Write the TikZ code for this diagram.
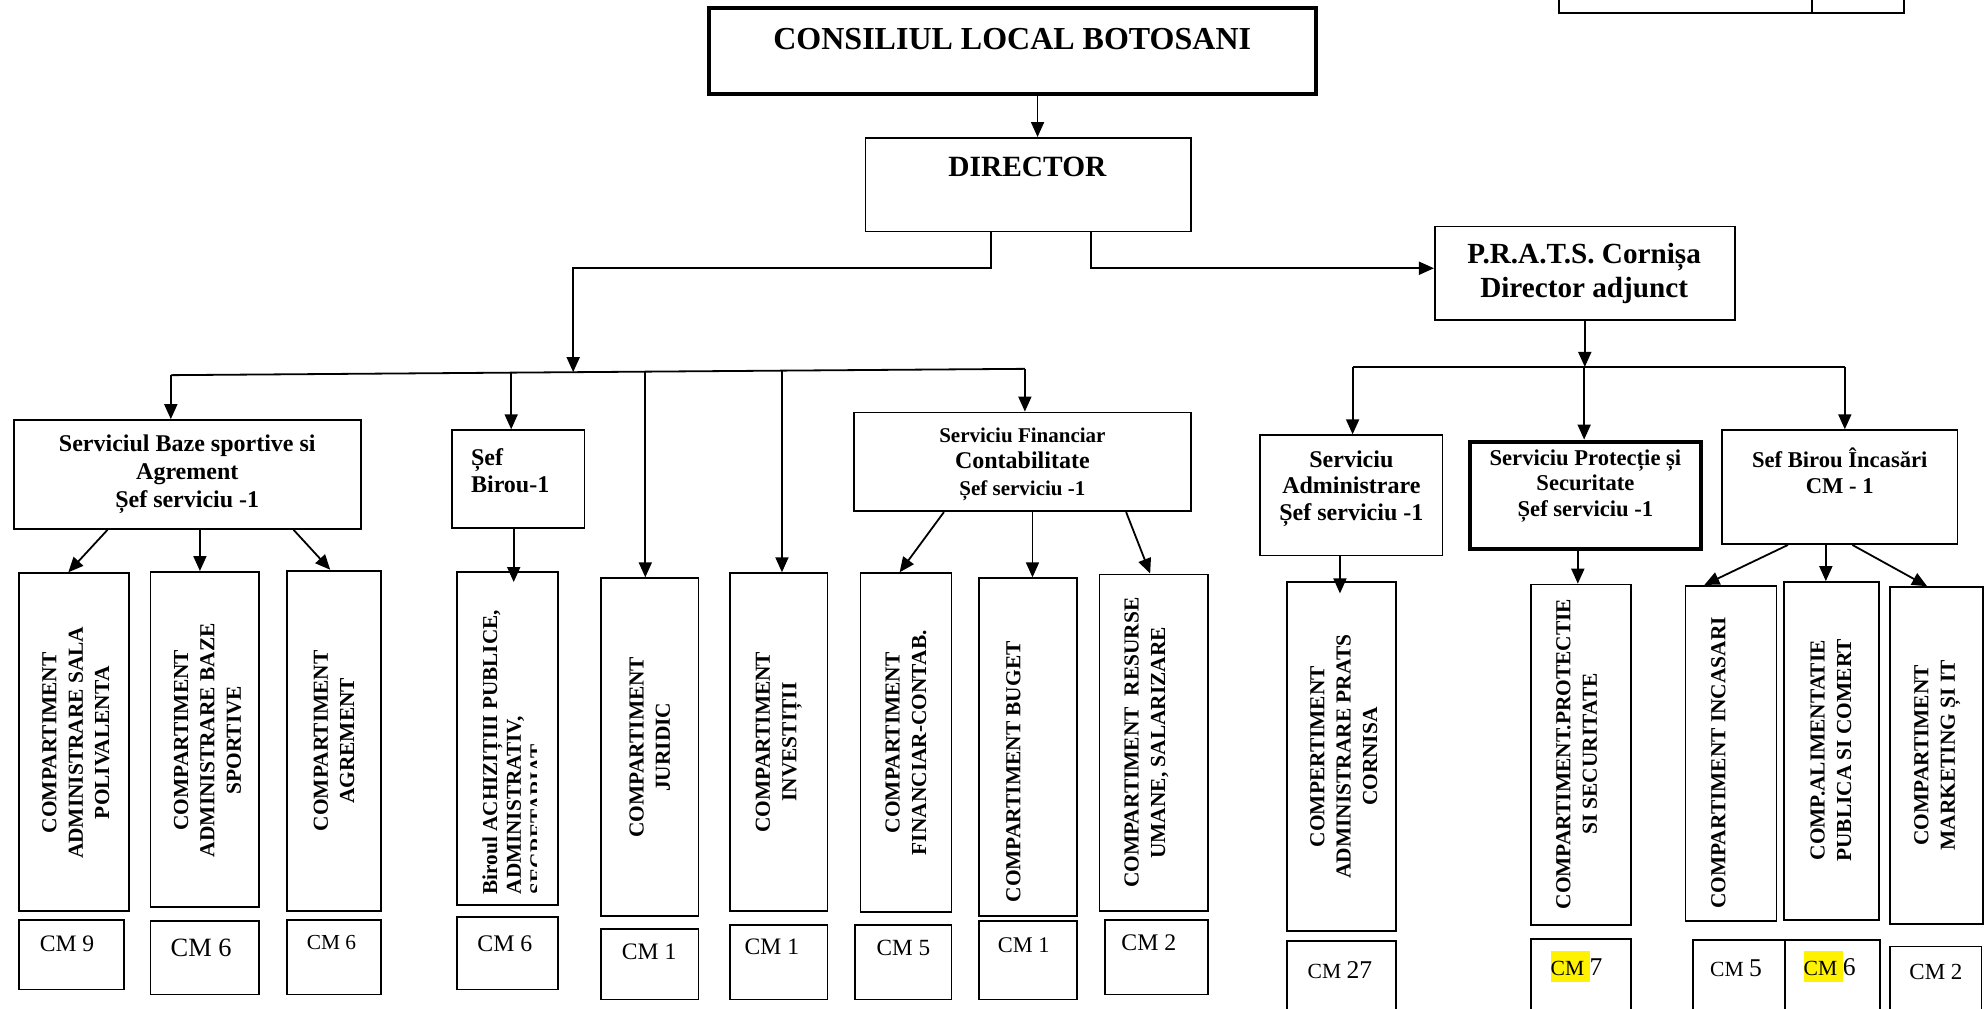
\documentclass[tikz,border=0pt]{standalone}
\usepackage{fontspec}
\setmainfont{Liberation Serif}
\usetikzlibrary{arrows.meta,fit}
\newcommand\fsz[2]{\fontsize{#1}{#2}\selectfont}
\newcommand\mkbox[6][box]{\node[#1, fit={(#3,#4) (#5,#6)}] (#2) {};}
\newcommand\hlcm[1]{{\setlength\fboxsep{0pt}\colorbox{yellow}{\rule[-3.5pt]{0pt}{15.8pt}#1}}}
\begin{document}
\begin{tikzpicture}[x=0.6327pt,y=-0.6327pt,
  box/.style={draw, line width=0.9pt, inner sep=0pt, rectangle},
  thickbox/.style={box, line width=2pt},
  arr/.style={line width=0.9pt, -{Triangle[length=7.5pt,width=6.5pt]}},
  ln/.style={line width=0.9pt},
  hd/.style={align=center, inner sep=0pt},
  rot/.style={rotate=90, align=center, inner sep=0pt, font=\bfseries\fsz{10.7}{13.2}},
  cmtxt/.style={inner sep=0pt}]
\useasboundingbox (0,0) rectangle (1568,797);
\clip (0,0) rectangle (1568,797);

% top-right table fragment
\draw[ln] (1232,-5) -- (1232,10) -- (1505,10) -- (1505,-5);
\draw[ln] (1432,-5) -- (1432,10);

% header boxes
\mkbox[thickbox]{cons}{560}{6}{1040}{74}
\mkbox{dir}{684}{109}{941}{183}
\mkbox{prats}{1134}{179}{1371}{253}
\mkbox{baze}{11}{332}{285}{418}
\mkbox{sefb}{357}{340}{462}{417}
\mkbox{fin}{675}{326}{941}{404}
\mkbox{adm}{996}{344}{1140}{439}
\mkbox[thickbox]{prot}{1162}{349}{1344}{434}
\mkbox{inc}{1361}{340}{1547}{430}

% compartment boxes
\mkbox{c1}{15}{453}{102}{720}
\mkbox{c2}{119}{452}{205}{717}
\mkbox{c3}{227}{451}{301}{720}
\mkbox{c4}{361}{452}{441}{715}
\mkbox{c5}{475}{457}{552}{724}
\mkbox{c6}{577}{453}{654}{720}
\mkbox{c7}{680}{453}{752}{721}
\mkbox{c8}{774}{457}{851}{724}
\mkbox{c9}{869}{454}{955}{720}
\mkbox{c10}{1017}{460}{1103}{736}
\mkbox{c11}{1210}{462}{1289}{731}
\mkbox{c12}{1332}{463}{1404}{728}
\mkbox{c13}{1410}{460}{1485}{727}
\mkbox{c14}{1494}{464}{1567}{730}

% CM boxes
\mkbox{m1}{15}{727}{98}{782}
\mkbox{m2}{119}{728}{205}{786}
\mkbox{m3}{227}{727}{301}{786}
\mkbox{m4}{361}{725}{441}{782}
\mkbox{m5}{475}{734}{552}{790}
\mkbox{m6}{577}{731}{654}{790}
\mkbox{m7}{676}{731}{752}{790}
\mkbox{m8}{774}{728}{851}{790}
\mkbox{m9}{873}{727}{955}{786}
\mkbox{m10}{1017}{744}{1103}{810}
\mkbox{m11}{1210}{742}{1289}{810}
\mkbox{m12}{1338}{743}{1411}{810}
\mkbox{m13}{1411}{743}{1486}{810}
\mkbox{m14}{1494}{748}{1566}{810}

% header texts
\node[hd, font=\bfseries\fsz{16}{19}] (consT) at (800,31) {CONSILIUL LOCAL BOTOSANI};
\node[hd, font=\bfseries\fsz{14.7}{17}] (dirT) at (812,132) {DIRECTOR};
\node[hd, font=\bfseries\fsz{14.6}{16.8}] (pratsT) at (1252,216) {P.R.A.T.S. Cornișa\\Director adjunct};
\node[hd, font=\bfseries\fsz{12}{13.9}] (bazeT) at (148,375) {Serviciul Baze sportive si\\Agrement\\Șef serviciu -1};
\node[hd, align=left, anchor=west, font=\bfseries\fsz{12}{13.3}] (sefbT) at (372,372) {Șef\\Birou-1};
\node[hd, font=\bfseries\fsz{10.5}{13.2}] (finT) at (808,367) {Serviciu Financiar\\{\fsz{12}{13.2}Contabilitate}\\Șef serviciu -1};
\node[hd, font=\bfseries\fsz{12}{13.3}] (admT) at (1068,386) {Serviciu\\Administrare\\Șef serviciu -1};
\node[hd, font=\bfseries\fsz{11.3}{12.6}] (protT) at (1253,384) {Serviciu Protecție și\\Securitate\\Șef serviciu -1};
\node[hd, font=\bfseries\fsz{11.3}{13.3}] (incT) at (1454,372) {Sef Birou Încasări\\CM - 1};

% rotated texts
\node[rot] (c1t) at (60,587) {COMPARTIMENT\\ADMINISTRARE SALA\\POLIVALENTA};
\node[rot] (c2t) at (164,585) {COMPARTIMENT\\ADMINISTRARE BAZE\\SPORTIVE};
\node[rot] (c3t) at (c3.center) {COMPARTIMENT\\AGREMENT};
\begin{scope}
  \clip (361,452) rectangle (424,715);
  \node[rot, align=left, anchor=north west, font=\bfseries\fsz{10.6}{11.8}] (c4t) at (381,707) {Biroul ACHIZIȚIII PUBLICE,\\ADMINISTRATIV,\\SECRETARIAT};
\end{scope}
\node[rot] (c5t) at (c5.center) {COMPARTIMENT\\JURIDIC};
\node[rot] (c6t) at (c6.center) {COMPARTIMENT\\INVESTIȚII};
\node[rot] (c7t) at (c7.center) {COMPARTIMENT\\FINANCIAR-CONTAB.};
\node[rot] (c8t) at (801,610) {COMPARTIMENT BUGET};
\node[rot] (c9t) at (906,587) {COMPARTIMENT\ \ RESURSE\\UMANE, SALARIZARE};
\node[rot] (c10t) at (1062,598) {COMPERTIMENT\\ADMINISTRARE PRATS\\CORNISA};
\node[rot] (c11t) at (1246,596) {COMPARTIMENT.PROTECTIE\\SI SECURITATE};
\node[rot] (c12t) at (1358,603) {COMPARTIMENT INCASARI};
\node[rot] (c13t) at (1447,593) {COMP.ALIMENTATIE\\PUBLICA SI COMERT};
\node[rot] (c14t) at (1531,597) {COMPARTIMENT\\MARKETING ȘI IT};

% CM texts
\node[cmtxt, font=\fsz{11.8}{13}] (m1t) at (53,746) {CM 9};
\node[cmtxt, font=\fsz{13.2}{15}] (m2t) at (159,749) {CM 6};
\node[cmtxt, font=\fsz{10.7}{12}] (m3t) at (262,745) {CM 6};
\node[cmtxt, font=\fsz{11.9}{13}] (m4t) at (399,746) {CM 6};
\node[cmtxt, font=\fsz{11.8}{13}] (m5t) at (513,752) {CM 1};
\node[cmtxt, font=\fsz{11.8}{13}] (m6t) at (610,748) {CM 1};
\node[cmtxt, font=\fsz{11.6}{13}] (m7t) at (714,749) {CM 5};
\node[cmtxt, font=\fsz{11.2}{13}] (m8t) at (809,747) {CM 1};
\node[cmtxt, font=\fsz{11.9}{13}] (m9t) at (908,745) {CM 2};
\node[cmtxt] (m10t) at (1059,767) {{\fsz{10.8}{13}CM }{\fsz{12.8}{14}27}};
\node[cmtxt] (m11t) at (1246,764) {{\fsz{10.8}{13}\hlcm{CM\ }}{\fsz{12.8}{14}7}};
\node[cmtxt] (m12t) at (1372,765) {{\fsz{10.8}{13}CM }{\fsz{12.8}{14}5}};
\node[cmtxt] (m13t) at (1446,764) {{\fsz{10.8}{13}\hlcm{CM\ }}{\fsz{12.8}{14}6}};
\node[cmtxt, font=\fsz{11.5}{13}] (m14t) at (1530,768) {CM 2};

% connectors
\draw[arr] (cons.south -| 820,0) -- (dir.north -| 820,0);
\coordinate (lb0) at (135,296.5);
\coordinate (lb1) at (404,294.5);
\coordinate (lb2) at (510,293.7);
\coordinate (lb3) at (618,292.9);
\coordinate (lb4) at (810,291.5);
\coordinate (lbd) at (453,294.1);
\draw[ln] (lb0) -- (lb4);
\draw[arr] (dir.south -| 783,0) -- (783,212) -- (453,212) -- (lbd);
\draw[arr] (dir.south -| 862,0) -- (862,212) -- (prats.west |- 0,212);
\draw[arr] (lb0) -- (lb0 |- baze.north);
\draw[arr] (lb1) -- (lb1 |- sefb.north);
\draw[arr] (lb2) -- (lb2 |- c5.north);
\draw[arr] (lb3) -- (lb3 |- c6.north);
\draw[arr] (lb4) -- (lb4 |- fin.north);

\coordinate (rb0) at (1069,290);
\coordinate (rb1) at (1252,290);
\coordinate (rb2) at (1458,290);
\draw[ln] (rb0) -- (rb2);
\draw[arr] (prats.south) -- (prats.south |- rb1);
\draw[arr] (rb0) -- (rb0 |- adm.north);
\draw[arr] (rb1) -- (rb1 |- prot.north);
\draw[arr] (rb2) -- (rb2 |- inc.north);

\draw[arr] (baze.south -| 85,0) -- (c1.north -| 54,0);
\draw[arr] (baze.south -| 158,0) -- (c2.north -| 158,0);
\draw[arr] (baze.south -| 232,0) -- (c3.north -| 261,0);
\draw[arr] (sefb.south -| 406,0) -- (406,460);
\draw[arr] (fin.south -| 746,0) -- (c7.north -| 711,0);
\draw[arr] (fin.south -| 816,0) -- (c8.north -| 816,0);
\draw[arr] (fin.south -| 890,0) -- (c9.north -| 909,0);
\draw[arr] (adm.south -| 1059,0) -- (1059,469);
\draw[arr] (prot.south -| 1247,0) -- (c11.north -| 1247,0);
\draw[arr] (inc.south -| 1413,0) -- (c12.north -| 1347,0);
\draw[arr] (inc.south -| 1443,0) -- (c13.north -| 1443,0);
\draw[arr] (inc.south -| 1464,0) -- (c14.north -| 1523,0);
\end{tikzpicture}
\end{document}
